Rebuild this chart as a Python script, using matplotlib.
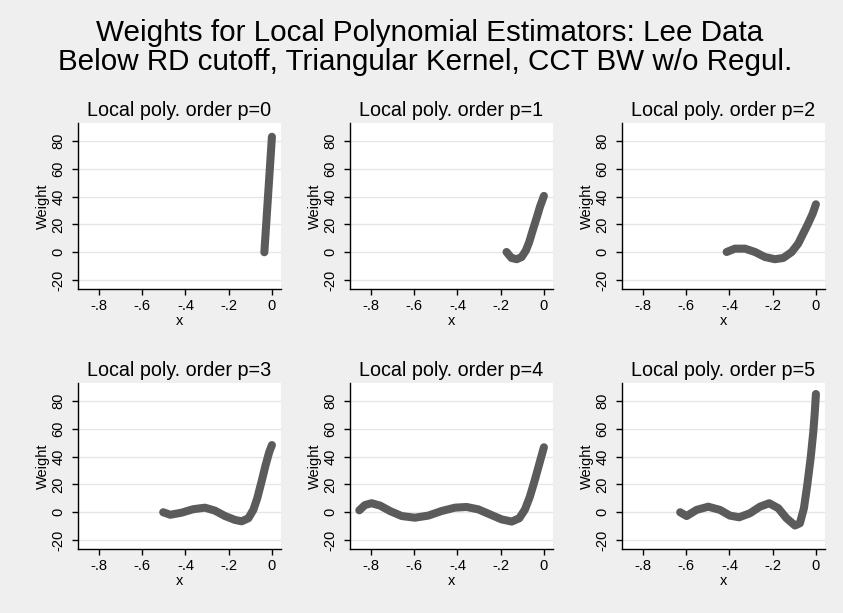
"""
plot.py -- Weights for local polynomial estimators (Lee data, below cutoff)
Six small panels, one per polynomial order, laid out like a Stata graph combine.
"""

import matplotlib

matplotlib.use("Agg")
import matplotlib.pyplot as plt

plt.rcParams["font.family"] = ["Liberation Sans", "DejaVu Sans"]

# ── Data ──────────────────────────────────────────────────

x_p0 = [-0.035, 0.0]
w_p0 = [0.0, 83.0]

x_p1 = [-0.173, -0.150, -0.126, -0.103, -0.083, -0.068, -0.054, -0.042,
        -0.029, -0.0185, 0.0]
w_p1 = [0.2, -4.1, -5.0, -3.4, 1.4, 7.4, 14.6, 20.6, 27.1, 32.6, 40.5]

x_p2 = [-0.413, -0.375, -0.328, -0.282, -0.236, -0.190, -0.151, -0.112,
        -0.082, -0.059, -0.036, -0.015, 0.0]
w_p2 = [0.2, 2.6, 2.6, 0.2, -3.4, -5.0, -4.1, 0.2, 6.2, 13.4, 20.6, 27.8, 34.5]

x_p3 = [-0.503, -0.470, -0.418, -0.364, -0.310, -0.264, -0.217, -0.171,
        -0.140, -0.109, -0.086, -0.068, -0.048, -0.029, -0.012, 0.0]
w_p3 = [0.0, -1.8, -0.3, 2.2, 3.3, 1.2, -2.7, -5.5, -6.5, -4.3, 1.7, 10.0,
        22.0, 34.0, 43.5, 48.3]

x_p4 = [-0.854, -0.828, -0.797, -0.758, -0.712, -0.658, -0.597, -0.535,
        -0.473, -0.412, -0.358, -0.304, -0.250, -0.196, -0.149, -0.114,
        -0.088, -0.065, -0.042, -0.0185, 0.0]
w_p4 = [1.4, 5.2, 6.5, 4.8, 0.9, -2.7, -3.9, -2.4, 0.9, 3.3, 3.8, 2.1, -1.5,
        -5.1, -6.7, -4.3, 1.9, 11.2, 23.2, 36.4, 46.7]

x_p5 = [-0.628, -0.598, -0.552, -0.498, -0.444, -0.398, -0.355, -0.305,
        -0.259, -0.216, -0.174, -0.136, -0.097, -0.074, -0.0555, -0.040,
        -0.0245, -0.012, -0.005, 0.0]
w_p5 = [0.0, -2.7, 1.7, 4.0, 1.7, -2.4, -3.6, -0.7, 4.0, 6.5, 2.9, -4.3,
        -9.5, -7.9, 2.9, 19.6, 38.8, 57.9, 72.3, 85.0]

panel_titles = [f"Local poly. order p={p}" for p in range(6)]
x_ticks = [-0.8, -0.6, -0.4, -0.2, 0.0]
x_tick_labels = ["-.8", "-.6", "-.4", "-.2", "0"]
y_ticks = [-20, 0, 20, 40, 60, 80]

title_lines = [
    "Weights for Local Polynomial Estimators: Lee Data",
    "Below RD cutoff, Triangular Kernel, CCT BW w/o Regul.",
]

series = [(x_p0, w_p0), (x_p1, w_p1), (x_p2, w_p2),
          (x_p3, w_p3), (x_p4, w_p4), (x_p5, w_p5)]

# ── Layout (pixels of the 843x613 canvas) ─────────────────

W, H = 843, 613
col_left = [78, 350, 622]
row_top = [123, 383]
ax_w, ax_h = 203, 166

BG = "#efefef"
LINE = "#5b5b5b"
GRID = "#e6e6e6"

fig = plt.figure(figsize=(W / 100, H / 100), dpi=100, facecolor=BG)

# two title lines placed separately to get the tight Stata spacing
fig.text(430 / W, 1 - 40.7 / H, title_lines[0], ha="center",
         va="baseline", fontsize=21.3)
fig.text(425.5 / W, 1 - 70.0 / H, title_lines[1], ha="center",
         va="baseline", fontsize=21.3)

for i, (xs, ws) in enumerate(series):
    r, c = divmod(i, 3)
    left, top = col_left[c], row_top[r]
    ax = fig.add_axes([left / W, 1 - (top + ax_h) / H, ax_w / W, ax_h / H])
    ax.set_facecolor("white")

    ax.plot(xs, ws, color=LINE, lw=5.8, solid_capstyle="round",
            solid_joinstyle="round", zorder=3)

    ax.set_xlim(-0.897, 0.042)
    ax.set_ylim(-26.4, 92.9)
    ax.set_xticks(x_ticks)
    ax.set_xticklabels(x_tick_labels)
    ax.set_yticks(y_ticks)
    ax.set_yticklabels([str(v) for v in y_ticks], rotation=90, va="center")

    ax.grid(axis="y", color=GRID, lw=1.0, zorder=0)
    ax.set_axisbelow(True)
    for side in ("top", "right"):
        ax.spines[side].set_visible(False)
    for side in ("left", "bottom"):
        ax.spines[side].set_linewidth(1.0)
        ax.spines[side].set_color("black")

    ax.tick_params(axis="both", length=4, width=1, labelsize=10.5,
                   colors="black")
    ax.tick_params(axis="x", pad=3)
    ax.tick_params(axis="y", pad=5)
    ax.set_xlabel("x", fontsize=10.5, labelpad=1)
    ax.set_ylabel("Weight", fontsize=10.5, labelpad=1)

    fig.text((left + ax_w / 2) / W, 1 - (top - 7) / H, panel_titles[i],
             ha="center", va="baseline", fontsize=14.2)

fig.savefig("out.png", dpi=100, facecolor=BG)
